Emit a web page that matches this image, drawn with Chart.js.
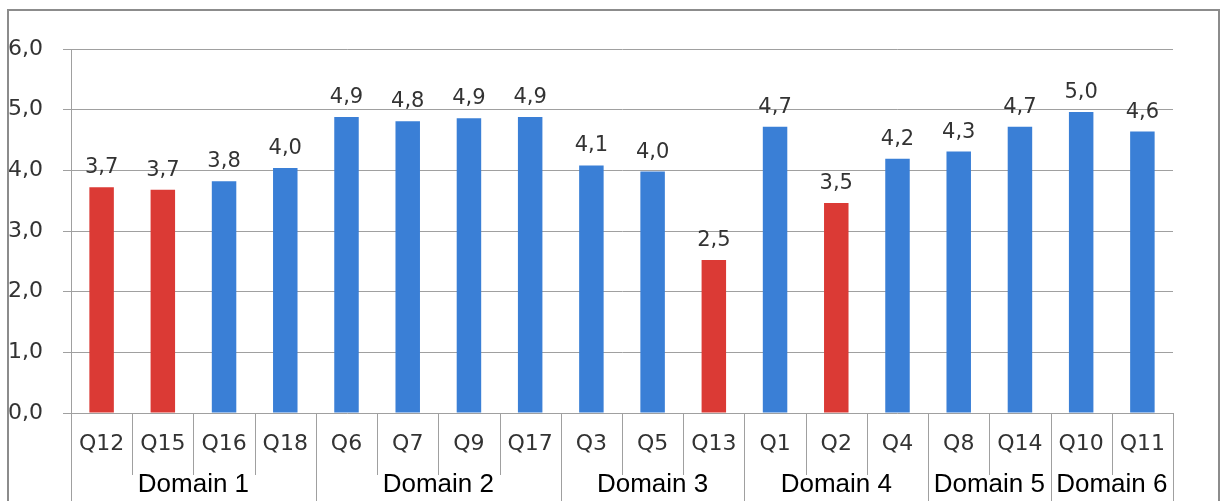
<!DOCTYPE html>
<html>
<head>
<meta charset="utf-8">
<script src="https://cdn.jsdelivr.net/npm/chart.js@4.4.1/dist/chart.umd.min.js"></script>
<style>
  html, body { margin: 0; padding: 0; background: #fff; }
  #wrap { width: 1223px; height: 501px; position: relative; }
</style>
</head>
<body>
<div id="wrap"><canvas id="scoreChart" width="1223" height="501"></canvas></div>
<script>
// questions in domain order
const questions = ["Q12", "Q15", "Q16", "Q18", "Q6", "Q7", "Q9", "Q17", "Q3", "Q5", "Q13", "Q1", "Q2", "Q4", "Q8", "Q14", "Q10", "Q11"];
const scores = [3.72, 3.68, 3.82, 4.04, 4.88, 4.81, 4.86, 4.88, 4.08, 3.98, 2.52, 4.72, 3.46, 4.19, 4.31, 4.72, 4.96, 4.64];
const flagged = ["Q12", "Q15", "Q13", "Q2"];

const domains = ["Domain 1", "Domain 2", "Domain 3", "Domain 4", "Domain 5", "Domain 6"];
const domainSizes = [4, 4, 3, 3, 2, 2];

const yTicks = [0, 1, 2, 3, 4, 5, 6];

const BLUE = "#3a7fd6";
const RED = "#db3a35";
const LINE = "#a0a0a0";

const fmt = v => v.toFixed(1).replace(".", ",");

// outer frame + grouped axis separators + domain names
const groupAxis = {
  id: "groupAxis",
  beforeDraw(chart) {
    const ctx = chart.ctx;
    ctx.save();
    ctx.fillStyle = "#fff";
    ctx.fillRect(0, 0, chart.width, chart.height);
    ctx.strokeStyle = "#8c8c8c";
    ctx.lineWidth = 2;
    ctx.strokeRect(8, 10, 1211, 600);
    ctx.restore();
  },
  afterDraw(chart) {
    const ctx = chart.ctx;
    const x = chart.scales.x;
    const base = chart.chartArea.bottom;
    const half = (x.getPixelForValue(1) - x.getPixelForValue(0)) / 2;
    ctx.save();
    ctx.strokeStyle = LINE;
    ctx.lineWidth = 1;
    // minor separators between questions
    for (let i = 0; i <= questions.length; i++) {
      const px = Math.round(x.getPixelForValue(i) - half) + 0.5;
      ctx.beginPath();
      ctx.moveTo(px, base);
      ctx.lineTo(px, base + 62);
      ctx.stroke();
    }
    // domain separators and labels
    let start = 0;
    ctx.fillStyle = "#000";
    ctx.font = "26px 'Liberation Sans', Arial, sans-serif";
    ctx.textAlign = "center";
    ctx.textBaseline = "alphabetic";
    domains.forEach((d, k) => {
      const end = start + domainSizes[k];
      const left = x.getPixelForValue(start) - half;
      const right = x.getPixelForValue(end - 1) + half;
      [left, right].forEach(p => {
        const px = Math.round(p) + 0.5;
        ctx.beginPath();
        ctx.moveTo(px, base);
        ctx.lineTo(px, chart.height);
        ctx.stroke();
      });
      ctx.fillText(d, (left + right) / 2, 492);
      start = end;
    });
    ctx.restore();
  },
  afterDatasetsDraw(chart) {
    const ctx = chart.ctx;
    const meta = chart.getDatasetMeta(0);
    ctx.save();
    ctx.fillStyle = "#333";
    ctx.font = "21px 'DejaVu Sans', Verdana, sans-serif";
    ctx.textAlign = "center";
    ctx.textBaseline = "alphabetic";
    meta.data.forEach((bar, i) => {
      ctx.fillText(fmt(scores[i]), bar.x, bar.y - 14);
    });
    ctx.restore();
  }
};

new Chart(document.getElementById("scoreChart"), {
  type: "bar",
  data: {
    labels: questions,
    datasets: [{
      data: scores,
      backgroundColor: questions.map(q => flagged.includes(q) ? RED : BLUE),
      barPercentage: 0.4,
      categoryPercentage: 1.0
    }]
  },
  options: {
    responsive: false,
    animation: false,
    layout: { padding: { left: 8, right: 50, top: 49, bottom: 0 } },
    plugins: { legend: { display: false }, tooltip: { enabled: false } },
    scales: {
      x: {
        grid: { display: false },
        border: { display: false },
        ticks: {
          color: "#333",
          font: { family: "'DejaVu Sans', Verdana, sans-serif", size: 22 },
          padding: 10,
          maxRotation: 0,
          autoSkip: false
        },
        afterFit(s) { s.height = 88; }
      },
      y: {
        min: 0,
        max: 6,
        afterBuildTicks(s) { s.ticks = yTicks.map(v => ({ value: v })); },
        grid: { color: LINE, tickLength: 8, lineWidth: 1 },
        border: { display: true, color: LINE },
        ticks: {
          color: "#333",
          font: { family: "'DejaVu Sans', Verdana, sans-serif", size: 22 },
          crossAlign: "far",
          padding: 4,
          callback: v => fmt(v)
        },
        afterFit(s) { s.width = 63; }
      }
    }
  },
  plugins: [groupAxis]
});
</script>
</body>
</html>
